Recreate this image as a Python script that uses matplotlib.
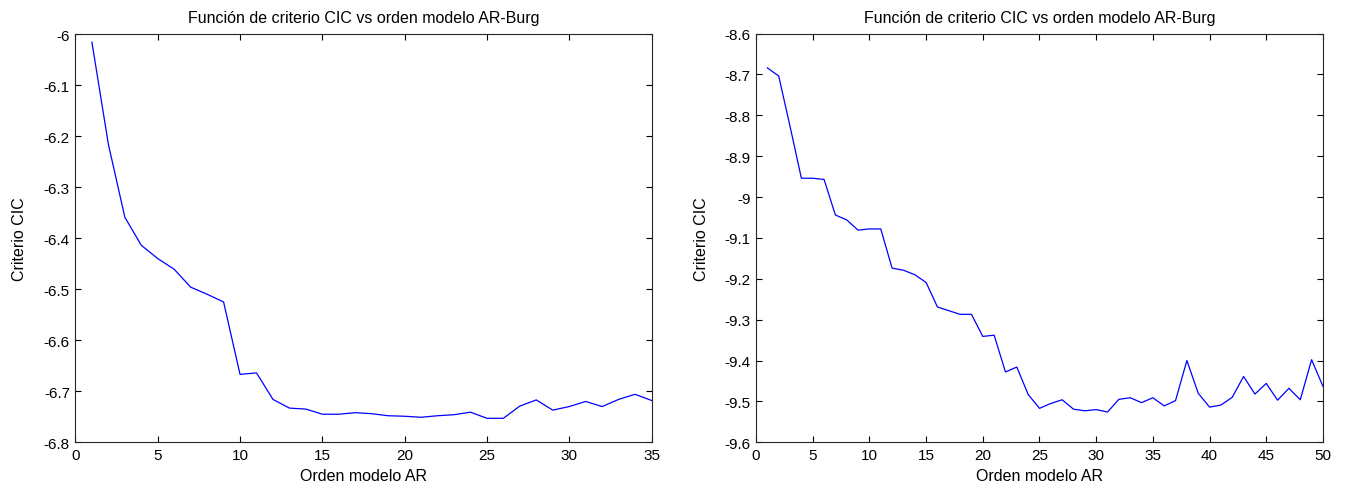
import matplotlib
matplotlib.use('Agg')
import matplotlib.pyplot as plt

plt.rcParams['font.family'] = ['Liberation Sans', 'DejaVu Sans']
plt.rcParams['font.size'] = 11

# CIC criterion for AR-Burg model orders (first signal: orders 1..35)
orden_1 = list(range(1, 36))
cic_1 = [-6.016, -6.216, -6.359, -6.414, -6.440, -6.461, -6.496, -6.510, -6.525,
         -6.667, -6.664, -6.716, -6.733, -6.735, -6.745, -6.745, -6.742, -6.744,
         -6.748, -6.749, -6.751, -6.748, -6.746, -6.741, -6.753, -6.753, -6.729,
         -6.717, -6.737, -6.730, -6.720, -6.730, -6.716, -6.706, -6.718]

# second signal: orders 1..50
orden_2 = list(range(1, 51))
cic_2 = [-8.684, -8.704, -8.827, -8.954, -8.954, -8.957, -9.044, -9.056, -9.081,
         -9.078, -9.078, -9.174, -9.179, -9.190, -9.209, -9.269, -9.278, -9.287,
         -9.287, -9.341, -9.338, -9.428, -9.416, -9.483, -9.517, -9.505, -9.496,
         -9.519, -9.523, -9.520, -9.526, -9.495, -9.491, -9.503, -9.491, -9.511,
         -9.498, -9.400, -9.480, -9.514, -9.509, -9.490, -9.439, -9.482, -9.456,
         -9.497, -9.468, -9.496, -9.398, -9.463]

fig = plt.figure(figsize=(13.45, 4.89), dpi=100)
ax1 = fig.add_axes([0.0561, 0.0935, 0.4283, 0.8349])
ax2 = fig.add_axes([0.5621, 0.0935, 0.4215, 0.8359])

panels = [
    (ax1, orden_1, cic_1, (0, 35), (-6.8, -6.0), [0, 5, 10, 15, 20, 25, 30, 35],
     [-6.8, -6.7, -6.6, -6.5, -6.4, -6.3, -6.2, -6.1, -6.0], -0.084),
    (ax2, orden_2, cic_2, (0, 50), (-9.6, -8.6), list(range(0, 55, 5)),
     [-9.6, -9.5, -9.4, -9.3, -9.2, -9.1, -9.0, -8.9, -8.8, -8.7, -8.6], -0.083),
]

for ax, x, y, xl, yl, xt, yt, ylab_x in panels:
    ax.plot(x, y, color='#0000ff', linewidth=0.9)
    ax.set_xlim(*xl)
    ax.set_ylim(*yl)
    ax.set_xticks(xt)
    ax.set_yticks(yt)
    ax.set_yticklabels(['%g' % v for v in yt])
    ax.tick_params(direction='in', top=True, right=True, length=4,
                   width=0.8, labelsize=11, pad=4)
    for s in ax.spines.values():
        s.set_linewidth(0.8)
        s.set_color('#262626')
    ax.set_title('Función de criterio CIC vs orden modelo AR-Burg', fontsize=11.5, pad=8.5)
    ax.set_xlabel('Orden modelo AR', fontsize=11.5)
    ax.set_ylabel('Criterio CIC', fontsize=11.5)
    ax.xaxis.set_label_coords(0.5, -0.062)
    ax.yaxis.set_label_coords(ylab_x, 0.5)

fig.savefig('out.png', dpi=100)
